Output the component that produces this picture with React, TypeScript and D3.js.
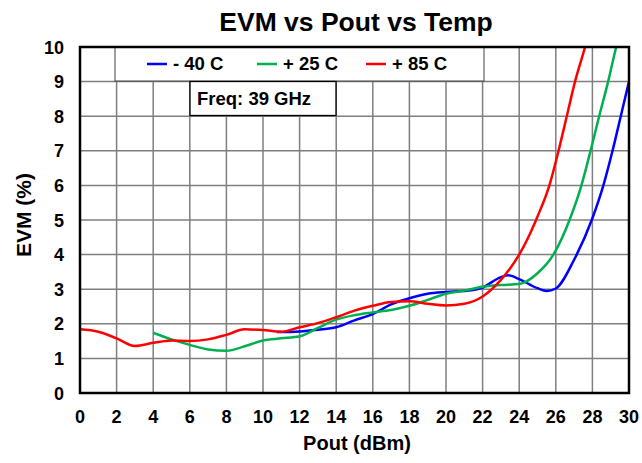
import React from "react";
import * as d3 from "d3";

const W = 642;
const H = 463;
const title = "EVM vs Pout vs Temp";
const xLabel = "Pout (dBm)";
const yLabel = "EVM (%)";
const freqNote = "Freq: 39 GHz";

const xTicks = [0, 2, 4, 6, 8, 10, 12, 14, 16, 18, 20, 22, 24, 26, 28, 30];
const yTicks = [0, 1, 2, 3, 4, 5, 6, 7, 8, 9, 10];

const seriesNames = ["- 40 C", "+ 25 C", "+ 85 C"];
const seriesColors = ["#0000FF", "#00B050", "#FF0000"];

const blueX = [10.75, 12, 13, 14, 15, 16, 17, 18, 19, 20, 21, 22, 23, 23.4, 24, 25, 25.5, 26, 27, 28, 28.6, 29.1, 29.55, 30];
const blueY = [1.76, 1.78, 1.83, 1.9, 2.1, 2.28, 2.56, 2.74, 2.87, 2.92, 2.95, 3.05, 3.35, 3.4, 3.29, 3.03, 2.95, 3.02, 3.85, 5.05, 6, 7, 8, 9];

const greenX = [4, 5, 6, 7, 8, 9, 10, 11, 12, 13, 14, 15, 16, 17, 18, 19, 20, 21, 22, 23, 24, 25, 25.87, 26.75, 27.4, 27.9, 28.37, 28.86, 29.3, 29.6];
const greenY = [1.74, 1.55, 1.39, 1.26, 1.22, 1.35, 1.52, 1.58, 1.64, 1.88, 2.12, 2.25, 2.33, 2.4, 2.52, 2.69, 2.87, 2.96, 3.07, 3.12, 3.15, 3.46, 4, 5, 6, 7, 8, 9, 10, 10.6];

const redX = [0, 1, 2, 3, 4, 5, 6, 7, 8, 9, 10, 11, 12, 13, 14, 15, 16, 17, 18, 19, 20, 21, 22, 23, 23.5, 24, 24.5, 25, 25.65, 26.15, 26.6, 27.05, 27.6, 27.9];
const redY = [1.84, 1.77, 1.58, 1.36, 1.45, 1.52, 1.5, 1.55, 1.68, 1.84, 1.82, 1.77, 1.9, 2.02, 2.19, 2.38, 2.52, 2.63, 2.65, 2.58, 2.53, 2.58, 2.79, 3.27, 3.6, 4.0, 4.5, 5.1, 6, 7, 8, 9, 10, 10.6];

const seriesX = [blueX, greenX, redX];
const seriesY = [blueY, greenY, redY];

const L = 80, R = 629, T = 47, B = 393;
const FONT = "'Liberation Sans', Arial, sans-serif";

export default function App() {
  const x = d3.scaleLinear().domain([0, 30]).range([L, R]);
  const y = d3.scaleLinear().domain([0, 10]).range([B, T]);
  const line = d3
    .line<[number, number]>()
    .x((d) => x(d[0]))
    .y((d) => y(d[1]))
    .curve(d3.curveMonotoneX);

  const legendItemX = [147, 257, 366];

  return (
    <svg width={W} height={H} style={{ position: "absolute", left: 0, top: 0, background: "#fff" }} fontFamily={FONT}>
      <defs>
        <clipPath id="plotclip">
          <rect x={L} y={T} width={R - L} height={B - T} />
        </clipPath>
      </defs>
      <rect x={0} y={0} width={W} height={H} fill="#fff" />
      <text x={356} y={31} textAnchor="middle" fontSize={26.5} fontWeight="bold">{title}</text>

      {/* grid */}
      {xTicks.map((t) => (
        <line key={"gx" + t} x1={x(t)} x2={x(t)} y1={T} y2={B} stroke="#7f7f7f" strokeWidth={1.5} />
      ))}
      {yTicks.map((t) => (
        <line key={"gy" + t} x1={L} x2={R} y1={y(t)} y2={y(t)} stroke="#7f7f7f" strokeWidth={1.5} />
      ))}

      {/* legend box */}
      <rect x={115} y={T} width={369} height={34} fill="#fff" stroke="#404040" strokeWidth={1} />
      {seriesNames.map((n, i) => (
        <g key={n}>
          <line x1={legendItemX[i]} x2={legendItemX[i] + 20} y1={64} y2={64} stroke={seriesColors[i]} strokeWidth={2.5} />
          <text x={legendItemX[i] + 26} y={70} fontSize={18.5} fontWeight="bold">{n}</text>
        </g>
      ))}
      {/* freq box */}
      <rect x={190} y={81.5} width={146} height={34} fill="#fff" stroke="#000" strokeWidth={1.3} />
      <text x={197} y={105} fontSize={18.5} fontWeight="bold">{freqNote}</text>

      {/* curves */}
      <g clipPath="url(#plotclip)">
        {seriesX.map((xs, i) => (
          <path
            key={"s" + i}
            d={line(xs.map((v, j) => [v, seriesY[i][j]] as [number, number])) || ""}
            fill="none"
            stroke={seriesColors[i]}
            strokeWidth={2.5}
          />
        ))}
      </g>

      {/* frame */}
      <rect x={L} y={T} width={R - L} height={B - T} fill="none" stroke="#000" strokeWidth={2.5} />

      {/* tick labels */}
      {xTicks.map((t) => (
        <text key={"tx" + t} x={x(t)} y={423} textAnchor="middle" fontSize={18} fontWeight="bold">{t}</text>
      ))}
      {yTicks.map((t) => (
        <text key={"ty" + t} x={64} y={y(t) + 6.5} textAnchor="end" fontSize={18} fontWeight="bold">{t}</text>
      ))}

      <text x={357} y={450} textAnchor="middle" fontSize={20} fontWeight="bold">{xLabel}</text>
      <text transform={`translate(31,215) rotate(-90)`} textAnchor="middle" fontSize={21} fontWeight="bold">{yLabel}</text>
    </svg>
  );
}
